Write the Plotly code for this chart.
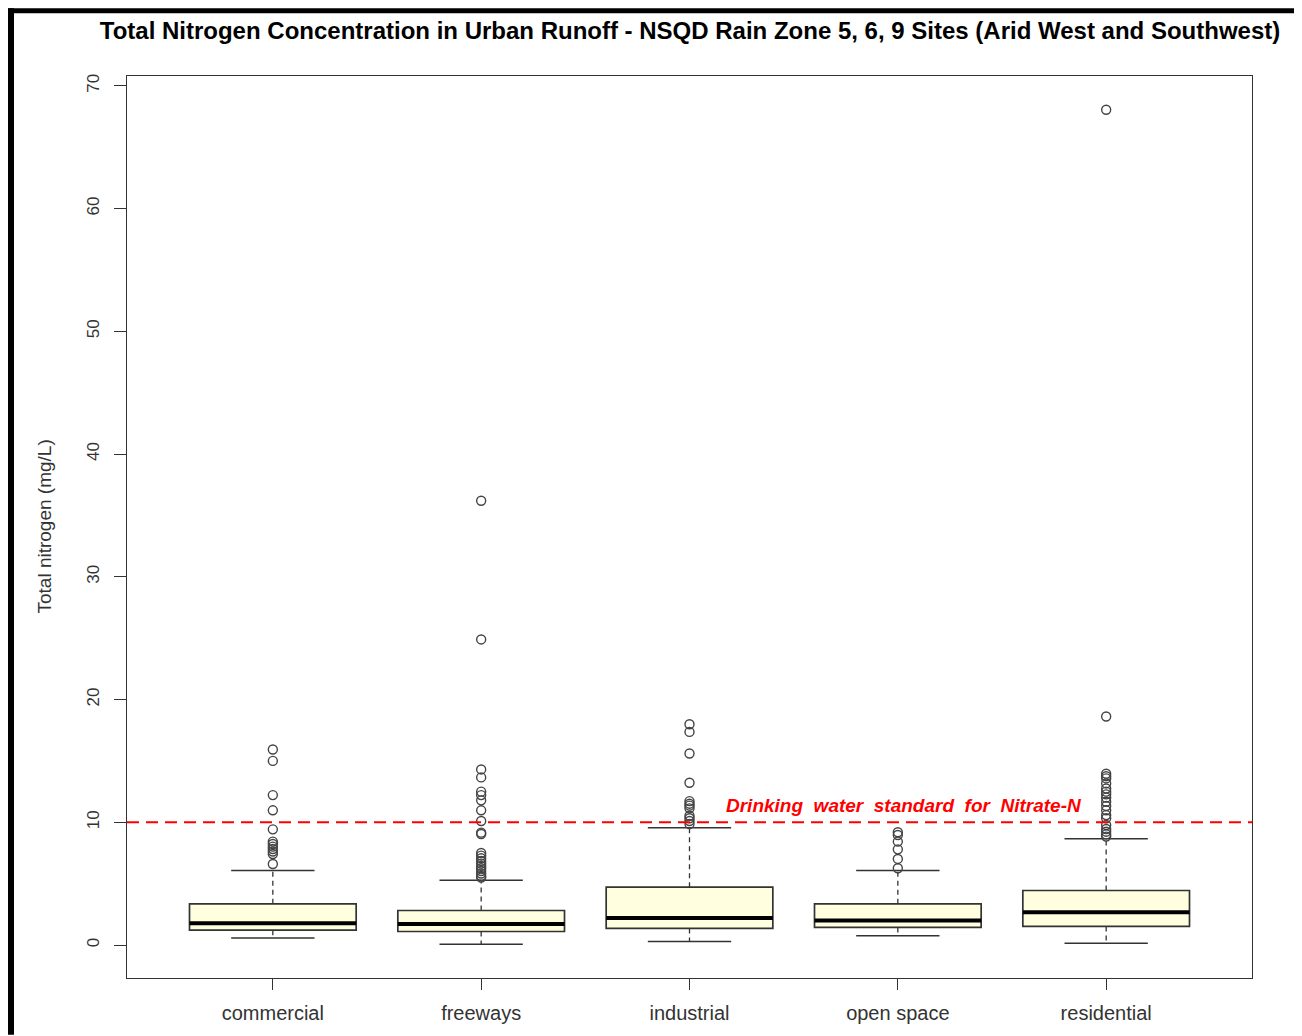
import plotly.graph_objects as go

# --- data (mg/L) ---
categories = ["commercial", "freeways", "industrial", "open space", "residential"]
q1 = [1.22, 1.11, 1.36, 1.44, 1.52]
median = [1.79, 1.71, 2.20, 2.01, 2.68]
q3 = [3.36, 2.82, 4.72, 3.36, 4.45]
whisker_lo = [0.57, 0.06, 0.30, 0.76, 0.16]
whisker_hi = [6.07, 5.28, 9.57, 6.07, 8.67]

outliers = {
    "commercial": [15.93, 15.01, 12.22, 10.98, 9.43, 8.43, 8.24, 8.02, 7.83, 7.62, 7.42, 6.61],
    "freeways": [36.2, 24.9, 14.31, 13.66, 12.5, 12.22, 11.79, 10.98, 10.11, 9.16, 9.05,
                 7.5, 7.29, 7.07, 6.85, 6.64, 6.45, 6.26, 6.04, 5.83, 5.63, 5.5],
    "industrial": [17.99, 17.37, 15.61, 13.23, 11.73, 11.52, 11.36, 11.14, 10.54, 10.33, 10.11, 9.86],
    "open space": [9.19, 8.97, 8.43, 7.80, 7.02, 6.26],
    "residential": [68.05, 18.62, 13.96, 13.76, 13.58, 13.17, 12.76, 12.50, 12.28, 12.01, 11.68,
                    11.33, 10.98, 10.59, 10.33, 9.78, 9.46, 9.24, 9.02, 8.84],
}

drinking_std = 10
y_ticks = [0, 10, 20, 30, 40, 50, 60, 70]

TITLE = "Total Nitrogen Concentration in Urban Runoff - NSQD Rain Zone 5, 6, 9 Sites (Arid West and Southwest)"

# page body has an 8px margin, so the figure is drawn 8px in from the window edge
OFF = 8
W, H = 1302 - OFF, 1036 - OFF
ML, MT = 127 - OFF, 76 - OFF
PW, PH = 1125, 907
MR, MB = W - ML - PW, H - MT - PH
xpos = list(range(1, len(categories) + 1))
BOXW = 0.8
CAPW = 0.4
DARK = "#333333"

fig = go.Figure()

# box bodies (no whiskers here, they are drawn dashed below)
fig.add_trace(go.Box(
    x=xpos, q1=q1, median=median, q3=q3, lowerfence=q1, upperfence=q3,
    width=BOXW, whiskerwidth=0, fillcolor="#FFFFE0",
    line=dict(color=DARK, width=1.7), boxpoints=False, showlegend=False,
    hoverinfo="skip",
))

# dashed whiskers, solid caps, thick medians
wx, wy, cx, cy, mx, my = [], [], [], [], [], []
for i, x in enumerate(xpos):
    wx += [x, x, None, x, x, None]
    wy += [q3[i], whisker_hi[i], None, q1[i], whisker_lo[i], None]
    cx += [x - CAPW / 2, x + CAPW / 2, None, x - CAPW / 2, x + CAPW / 2, None]
    cy += [whisker_hi[i], whisker_hi[i], None, whisker_lo[i], whisker_lo[i], None]
    mx += [x - BOXW / 2, x + BOXW / 2, None]
    my += [median[i], median[i], None]

fig.add_trace(go.Scatter(x=wx, y=wy, mode="lines", showlegend=False, hoverinfo="skip",
                         line=dict(color=DARK, width=1.3, dash="5px,4px")))
fig.add_trace(go.Scatter(x=cx, y=cy, mode="lines", showlegend=False, hoverinfo="skip",
                         line=dict(color=DARK, width=1.5)))
fig.add_trace(go.Scatter(x=mx, y=my, mode="lines", showlegend=False, hoverinfo="skip",
                         line=dict(color="black", width=4)))

# outliers
ox, oy = [], []
for x, cat in zip(xpos, categories):
    ox += [x] * len(outliers[cat])
    oy += outliers[cat]
fig.add_trace(go.Scatter(x=ox, y=oy, mode="markers", showlegend=False,
                         marker=dict(symbol="circle-open", size=9, color="#444444",
                                     line=dict(width=1.4))))

# drinking water standard
fig.add_hline(y=drinking_std, line=dict(color="#FF0000", width=2, dash="12px,7px"))
fig.add_annotation(x=4.03, y=drinking_std, xref="x", yref="y", yanchor="bottom", yshift=4,
                   text="<b><i>Drinking&nbsp; water&nbsp; standard&nbsp; for&nbsp; Nitrate-N</i></b>",
                   showarrow=False, font=dict(color="#FF0000", size=19, family="Liberation Sans, Arial"))

# y-axis title
fig.add_annotation(x=0, y=0.5, xref="paper", yref="paper", xshift=-96, textangle=-90,
                   text="Total nitrogen (mg/L)", showarrow=False,
                   font=dict(size=19, color=DARK))


# frame decoration of the reference screenshot (window pixel -> paper helper)
def px(xp):
    return (xp - OFF - ML) / PW


def py(yp):
    return (MT + PH - (yp - OFF)) / PH


fig.add_shape(type="rect", xref="paper", yref="paper", x0=px(8), x1=px(14), y0=py(1040), y1=py(8),
              fillcolor="black", line=dict(width=0), layer="above")
fig.add_shape(type="rect", xref="paper", yref="paper", x0=px(8), x1=px(1310), y0=py(13), y1=py(8),
              fillcolor="black", line=dict(width=0), layer="above")

fig.update_layout(
    width=W, height=H,
    margin=dict(l=ML, r=MR, t=MT, b=MB),
    paper_bgcolor="white", plot_bgcolor="white",
    font=dict(family="Liberation Sans, Arial", color=DARK),
    title=dict(text="<b>" + TITLE + "</b>", x=(690 - OFF) / W, xanchor="center", xref="container",
               y=1 - (31 - OFF) / H, yanchor="middle", yref="container",
               font=dict(size=24, color="black")),
    xaxis=dict(range=[0.3, 5.7], tickvals=xpos, ticktext=categories,
               showgrid=False, zeroline=False, showline=True, mirror=True,
               linecolor=DARK, linewidth=1.3, ticks="outside", ticklen=11,
               tickcolor=DARK, tickwidth=1.3, tickfont=dict(size=20, color=DARK),
               ticklabelstandoff=6),
    yaxis=dict(range=[-2.68, 70.8], tickvals=y_ticks, showgrid=False, zeroline=False,
               showline=True, mirror=True, linecolor=DARK, linewidth=1.3,
               ticks="outside", ticklen=12, tickcolor=DARK, tickwidth=1.3,
               tickangle=-90, tickfont=dict(size=17, color=DARK), ticklabelstandoff=8),
)

fig.write_html("out.html")
